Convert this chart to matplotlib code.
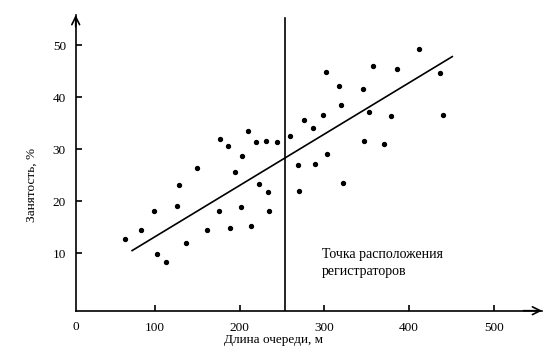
import matplotlib.pyplot as plt

plt.rcParams["font.family"] = ["Liberation Serif", "DejaVu Serif"]

# queue length (m) and occupancy (%)
queue_len = [65, 83, 99, 102, 113, 126, 128, 137, 150, 161, 176, 177, 186, 189,
             194, 202, 203, 210, 213, 219, 223, 231, 233, 235, 244,
             260, 269, 270, 276, 286, 289, 298, 302, 303, 317, 320, 322, 346,
             347, 353, 358, 371, 379, 386, 412, 437, 440]
occupancy = [12.7, 14.5, 18.2, 9.8, 8.4, 19.1, 23.2, 12.0, 26.4, 14.4, 18.2, 31.9,
             30.6, 14.8, 25.6, 18.9, 28.7, 33.4, 15.2, 31.3, 23.4, 31.6, 21.7,
             18.2, 31.3,
             32.6, 26.9, 22.0, 35.6, 34.1, 27.2, 36.5, 44.9, 29.0, 42.2, 38.5,
             23.5, 41.6, 31.6, 37.2, 46.0, 31.0, 36.4, 45.5, 49.3, 44.7, 36.6]

# trend line end points
trend_x = [73, 451]
trend_y = [10.5, 47.8]

# registrar location
registrar_x = 254

x_ticks = [100, 200, 300, 400, 500]
y_ticks = [10, 20, 30, 40, 50]

fig = plt.figure(figsize=(5.47, 3.54), dpi=100)
ax = fig.add_axes([0.1384, 0.1223, 0.8525, 0.8353])

ax.scatter(queue_len, occupancy, s=8, color="black", zorder=3)
ax.plot(trend_x, trend_y, color="black", linewidth=1.2)
ax.axvline(registrar_x, ymin=0, ymax=0.99, color="black", linewidth=1.2)

ax.set_xlim(6.4, 557)
ax.set_ylim(-1.06, 55.8)

for side in ["top", "right"]:
    ax.spines[side].set_visible(False)
for side in ["left", "bottom"]:
    ax.spines[side].set_linewidth(1.2)

ax.set_xticks(x_ticks)
ax.set_yticks(y_ticks)
ax.tick_params(direction="in", length=4, width=1.2, labelsize=9.5)
ax.tick_params(axis="x", pad=8)
ax.tick_params(axis="y", pad=7)

# axis arrows
ax.annotate("", xy=(1.0, 0), xytext=(0.96, 0), xycoords="axes fraction",
            arrowprops=dict(arrowstyle="->", lw=1.2, color="black",
                            shrinkA=0, shrinkB=0, mutation_scale=14))
ax.annotate("", xy=(0, 1.0), xytext=(0, 0.96), xycoords="axes fraction",
            arrowprops=dict(arrowstyle="->", lw=1.2, color="black",
                            shrinkA=0, shrinkB=0, mutation_scale=14))

ax.text(0.0, -0.035, "0", transform=ax.transAxes, ha="center", va="top",
        fontsize=9.5)

fig.text(273 / 547, 1 - 340 / 354, "Длина очереди, м", ha="center",
         va="center", fontsize=9.5)
fig.text(32 / 547, 1 - 185 / 354, "Занятость, %", ha="center", va="center",
         rotation=90, fontsize=9.5)

fig.text(322 / 547, 1 - 263 / 354, "Точка расположения\nрегистраторов",
         ha="left", va="center", fontsize=10, linespacing=1.45)

fig.savefig("out.png", dpi=100)
